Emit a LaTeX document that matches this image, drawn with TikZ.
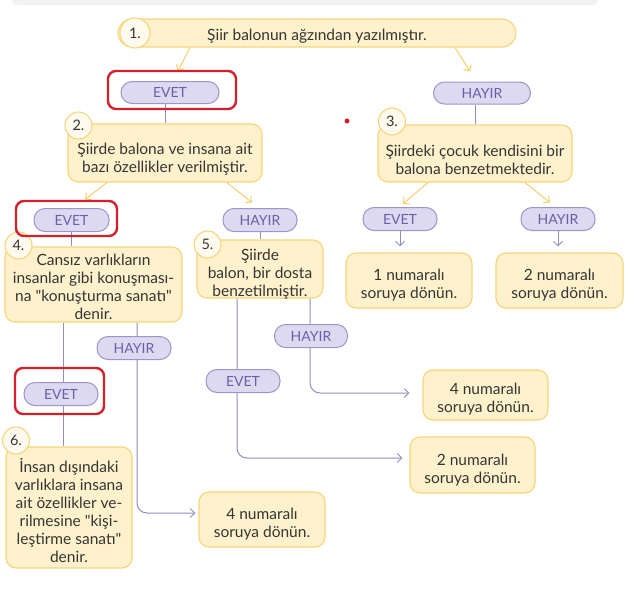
\documentclass[tikz,border=0pt]{standalone}
\usepackage{fontspec}
\usetikzlibrary{arrows.meta,backgrounds,calc}
\newfontfamily\mainfam{Lato}
\newcommand\mainf{\mainfam\fontsize{15.5}{18}\selectfont}
\newcommand\pillf{\mainfam\fontsize{14}{16}\selectfont}
\newcommand\numf{\mainfam\fontsize{14.5}{16}\selectfont}
\definecolor{yfill}{HTML}{FEF1CB}
\definecolor{ybord}{HTML}{F5D57C}
\definecolor{cfill}{HTML}{FFFAEE}
\definecolor{yline}{HTML}{F3CF6C}
\definecolor{pfill}{HTML}{DDD9F0}
\definecolor{pbord}{HTML}{9C95C9}
\definecolor{ptxt}{HTML}{6B60A8}
\definecolor{plinec}{HTML}{928CC2}
\definecolor{txt}{HTML}{353535}
\definecolor{redc}{HTML}{D3212B}
\definecolor{bar}{HTML}{F2F2F2}
\tikzset{
 ybox/.style={draw=ybord, fill=yfill, line width=1.1pt, rounded corners=10pt, inner sep=0pt},
 ytext/.style={font=\mainf, text=txt, align=center, inner sep=0pt, yshift=-5pt},
 pill/.style={draw=pbord, fill=pfill, line width=1pt, rounded corners=11pt, minimum height=23pt, inner sep=0pt, font=\pillf, text=ptxt},
 numc/.style={circle, draw=ybord, fill=cfill, line width=1.1pt, minimum size=27pt, inner sep=0pt, font=\numf, text=txt},
 yarr/.style={draw=yline, line width=1pt, -{Straight Barb[length=4.5pt,width=9pt]}},
 pl/.style={draw=plinec, line width=1pt},
 parr/.style={pl, -{Straight Barb[length=4.5pt,width=9pt]}},
 redbox/.style={draw=redc, line width=2.4pt, rounded corners=8pt, inner sep=0pt}
}
\begin{document}
\begin{tikzpicture}[x=1pt,y=-1pt]
\useasboundingbox (0,0) rectangle (635,595);
% boxes
\node[ybox, rounded corners=14pt, minimum width=398pt, minimum height=28pt] (b1) at (317,33) {};
\node[ytext, yshift=1.5pt] (b1t) at (b1) {Şiir balonun ağzından yazılmıştır.};
\node[ybox, minimum width=194pt, minimum height=58pt] (b2) at (165,153) {};
\node[ytext, yshift=-1pt] (b2t) at (b2) {Şiirde balona ve insana ait\\bazı özellikler verilmiştir.};
\node[ybox, minimum width=194pt, minimum height=57pt] (b3) at (475,153.5) {};
\node[ytext, yshift=-1pt] (b3t) at (b3) {Şiirdeki çocuk kendisini bir\\balona benzetmektedir.};
\node[ybox, minimum width=177pt, minimum height=75pt] (b4) at (93.5,284.5) {};
\node[ytext, yshift=3pt] (b4t) at (b4) {Cansız varlıkların\\insanlar gibi konuşması-\\na "konuşturma sanatı"\\denir.};
\node[ybox, minimum width=126pt, minimum height=58pt] (b5) at (260,269) {};
\node[ytext] (b5t) at (b5) {Şiirde\\balon, bir dosta\\benzetilmiştir.};
\node[ybox, minimum width=126pt, minimum height=121pt] (b6) at (69,507.5) {};
\node[ytext, yshift=1.5pt] (b6t) at (b6) {İnsan dışındaki\\varlıklara insana\\ait özellikler ve-\\rilmesine "kişi-\\leştirme sanatı"\\denir.};
\node[ybox, minimum width=126pt, minimum height=55pt] (r1) at (409,280.5) {};
\node[ytext] (r1t) at (r1) {1 numaralı\\soruya dönün.};
\node[ybox, minimum width=127pt, minimum height=55pt] (r2) at (559.5,280.5) {};
\node[ytext] (r2t) at (r2) {2 numaralı\\soruya dönün.};
\node[ybox, minimum width=125pt, minimum height=50pt] (r4b) at (485.5,395) {};
\node[ytext, yshift=1pt] (r4bt) at (r4b) {4 numaralı\\soruya dönün.};
\node[ybox, minimum width=125pt, minimum height=56pt] (r2b) at (472.5,465) {};
\node[ytext] (r2bt) at (r2b) {2 numaralı\\soruya dönün.};
\node[ybox, minimum width=126pt, minimum height=55pt] (r4a) at (262,519.5) {};
\node[ytext] (r4at) at (r4a) {4 numaralı\\soruya dönün.};
% number circles
\node[numc, minimum size=30pt] (n1) at (135,33) {1.};
\node[numc] (n2) at (78.5,125.5) {2.};
\node[numc] (n3) at (392,121.5) {3.};
\node[numc] (n4) at (18.5,245.5) {4.};
\node[numc] (n5) at (207.5,244.5) {5.};
\node[numc] (n6) at (16,440.5) {6.};
% pills
\node[pill, minimum width=98pt, minimum height=22pt] (e1) at (170,92.5) {EVET};
\node[pill, minimum width=97pt, minimum height=22pt] (h1) at (482,93) {HAYIR};
\node[pill, minimum width=75pt] (e2) at (71.5,220) {EVET};
\node[pill, minimum width=74pt] (h2) at (260,220) {HAYIR};
\node[pill, minimum width=74pt] (e4) at (400,219) {EVET};
\node[pill, minimum width=74pt] (h4) at (558,219) {HAYIR};
\node[pill, minimum width=74pt] (h5) at (134,348) {HAYIR};
\node[pill, minimum width=74pt] (e5) at (61,394) {EVET};
\node[pill, minimum width=73pt] (h3) at (311,336) {HAYIR};
\node[pill, minimum width=74pt] (e3) at (243,381) {EVET};
% red marks
\node[redbox, minimum width=128pt, minimum height=38pt] (m1) at (172,90) {};
\node[redbox, minimum width=101pt, minimum height=35pt] (m2) at (66.5,218.5) {};
\node[redbox, minimum width=89pt, minimum height=46pt] (m3) at (59.5,391) {};
\node[circle, fill=redc, minimum size=5pt, inner sep=0pt] (dot) at (347,121) {};
\begin{scope}[on background layer]
\fill[bar, rounded corners=5pt] (12,-8) rectangle (598,5);
% yellow arrows
\draw[yarr] ([xshift=-127pt]b1.south) -- ([xshift=8pt,yshift=10pt]e1.north);
\draw[yarr] ([xshift=138pt]b1.south) -- ([xshift=-12pt,yshift=10pt]h1.north);
\draw[yarr] ([xshift=-58pt]b2.south) -- ([xshift=13.5pt,yshift=8.5pt]e2.north);
\draw[yarr] ([xshift=62pt]b2.south) -- ([xshift=-8pt,yshift=5.5pt]h2.north);
\draw[yarr] ([xshift=-47pt]b3.south) -- ([xshift=3pt,yshift=3pt]e4.north);
\draw[yarr] ([xshift=50pt]b3.south) -- ([xshift=-8pt,yshift=4.5pt]h4.north);
% purple lines
\draw[pl] (b2.north |- e1.south) -- (b2.north);
\draw[pl] (b3.north |- h1.south) -- (b3.north);
\draw[pl] (h2.south) -- (h2.south |- b5.north);
\draw[pl] (e2.south) -- (e2.south |- b4.north);
\draw[parr, shorten >=6pt] (e4.south) -- (e4.south |- r1.north);
\draw[parr, shorten >=6pt] (h4.south) -- (h4.south |- r2.north);
\draw[pl] ([xshift=-30.5pt]b4.south) coordinate (c6) -- (c6 |- b6.north);
\draw[parr, rounded corners=10pt, shorten >=3pt] ([xshift=43.5pt]b4.south) |- ([yshift=6.5pt]r4a.west);
\draw[parr, rounded corners=10pt, shorten >=7pt] ([xshift=-23pt]b5.south) |- ([yshift=7pt]r2b.west);
\draw[parr, rounded corners=10pt, shorten >=13pt] ([xshift=50pt]b5.south) |- ([yshift=2pt]r4b.west);
\end{scope}
\end{tikzpicture}
\end{document}
